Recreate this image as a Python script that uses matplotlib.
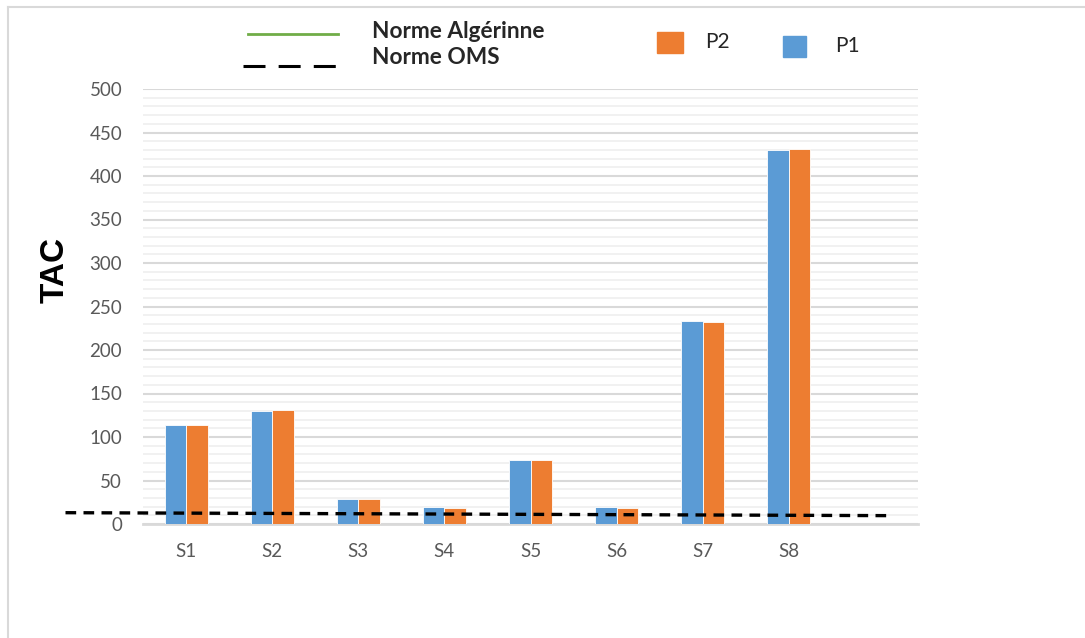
import matplotlib
matplotlib.use("Agg")
import matplotlib.pyplot as plt
import numpy as np
from matplotlib.lines import Line2D
from matplotlib.patches import Rectangle

categories = ["S1", "S2", "S3", "S4", "S5", "S6", "S7", "S8", ""]
p1 = [114, 129.5, 29, 19.5, 74, 19.5, 233.5, 429.5, 0]
p2 = [114, 130.5, 29, 18.5, 73.5, 18.5, 232.5, 430.5, 0]
oms_x = [-1.4, 8.2]
oms_y = [13, 9.6]
yticks = [0, 50, 100, 150, 200, 250, 300, 350, 400, 450, 500]

BLUE = "#5B9BD5"
ORANGE = "#ED7D31"
GREEN = "#70AD47"
TXT = "#595959"

W, H = 1085, 638
fig = plt.figure(figsize=(W / 100, H / 100), dpi=100)
fig.patch.set_facecolor("white")

def fx(px):
    return px / W

def fy(py):
    return 1 - py / H

ax = fig.add_axes([fx(143), fy(524), fx(918) - fx(143), fy(89) - fy(524)])
x = np.arange(len(categories))
bw = 0.25
ax.bar(x - bw / 2, p1, bw, color=BLUE, edgecolor="white", linewidth=0.6, zorder=3)
ax.bar(x + bw / 2, p2, bw, color=ORANGE, edgecolor="white", linewidth=0.6, zorder=3)

ax.set_xlim(-0.5, len(categories) - 0.5)
ax.set_ylim(0, 500)
ax.set_yticks(yticks)
ax.set_yticks(np.arange(0, 501, 10), minor=True)
ax.grid(axis="y", which="minor", color="#F0F0F0", linewidth=1.3, zorder=0)
ax.grid(axis="y", which="major", color="#D9D9D9", linewidth=1.5, zorder=1)
ax.set_xticks(x)
ax.set_xticklabels(categories)
ax.tick_params(axis="both", which="both", length=0)
ax.tick_params(axis="x", pad=14, labelsize=13.5, labelcolor=TXT)
ax.tick_params(axis="y", pad=15, labelsize=13.5, labelcolor=TXT)
for lab in ax.get_xticklabels() + ax.get_yticklabels():
    lab.set_fontfamily("Lato")
for s in ["top", "right", "left"]:
    ax.spines[s].set_visible(False)
ax.spines["bottom"].set_color("#D9D9D9")
ax.spines["bottom"].set_linewidth(2)
ax.spines["bottom"].set_zorder(2)

ax.plot(oms_x, oms_y, color="black", linewidth=2.4, dashes=(3.2, 2.2),
        clip_on=False, zorder=5)

fig.text(fx(55), fy(270), "TAC", rotation=90, ha="center", va="center",
         fontsize=24, fontweight="bold", family="Liberation Sans", color="black")

# legend
fig.add_artist(Line2D([fx(248), fx(338)], [fy(34), fy(34)], color=GREEN, linewidth=2))
fig.add_artist(Line2D([fx(243), fx(338)], [fy(66), fy(66)], color="black",
                      linewidth=2.2, dashes=(7.2, 4.3)))
fig.text(fx(372), fy(31), "Norme Algérinne", ha="left", va="center",
         fontsize=16.3, fontweight="bold", family="Lato", color="#262626")
fig.text(fx(372), fy(57), "Norme OMS", ha="left", va="center",
         fontsize=16.3, fontweight="bold", family="Lato", color="#262626")
fig.add_artist(Rectangle((fx(657), fy(53)), fx(683) - fx(657), fy(32) - fy(53),
                         transform=fig.transFigure, color=ORANGE))
fig.add_artist(Rectangle((fx(783), fy(57)), fx(806) - fx(783), fy(36) - fy(57),
                         transform=fig.transFigure, color=BLUE))
fig.text(fx(705), fy(42), "P2", ha="left", va="center", fontsize=15,
         family="Lato", color="#262626")
fig.text(fx(835), fy(46), "P1", ha="left", va="center", fontsize=15,
         family="Lato", color="#262626")

# outer border (left and top visible)
fig.add_artist(Line2D([fx(7.5), fx(7.5)], [fy(6.5), 0], color="#D9D9D9", linewidth=1.5))
fig.add_artist(Line2D([fx(7.5), 1], [fy(6.5), fy(6.5)], color="#D9D9D9", linewidth=1.5))

fig.savefig("out.png", dpi=100, facecolor="white")
